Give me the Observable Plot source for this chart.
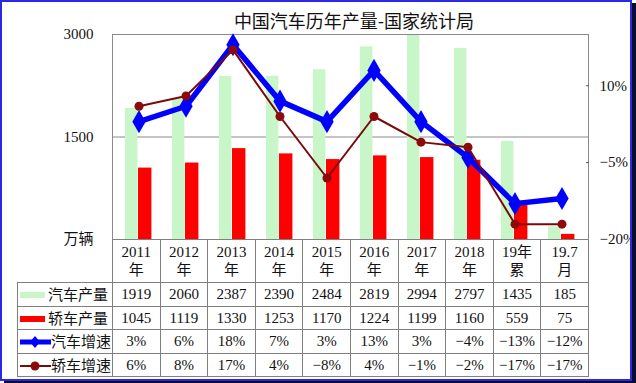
<!DOCTYPE html>
<html><head><meta charset="utf-8">
<script src="https://cdn.jsdelivr.net/npm/d3@7"></script>
<script src="https://cdn.jsdelivr.net/npm/@observablehq/plot@0.6"></script>
<style>
body{margin:0;background:#fff;}
#wrap{position:relative;width:636px;height:383px;overflow:hidden;background:#fff;font-family:"Liberation Serif","Noto Sans CJK SC",serif;color:#111;}
#chart{position:absolute;left:0;top:0;}
#title{position:absolute;left:112px;width:484px;top:10px;text-align:center;font-family:"Noto Sans CJK SC";font-size:18px;line-height:20px;color:#111;}
#tbl{position:absolute;left:17px;top:239px;border-collapse:collapse;table-layout:fixed;width:571px;font-size:15px;font-family:"Liberation Serif","Noto Sans CJK SC",serif;}
#tbl td{border:1px solid #808080;padding:0;text-align:center;white-space:nowrap;height:22.5px;line-height:18px;}
#tbl tr.hdr td{height:42px;}
#tbl td.blank{border-top:none;border-left:none;}
#tbl td.lab{text-align:left;padding-left:2px;font-family:"Noto Sans CJK SC";}
.sw{display:inline-block;width:25px;height:6px;vertical-align:middle;margin-right:3px;position:relative;top:-1px;}
.ls{display:inline-block;vertical-align:middle;margin-right:0px;position:relative;top:-1px;}
#frame{position:absolute;left:0;top:0;width:632px;height:381px;box-sizing:border-box;border:2px solid #2a2ae6;box-shadow:4px 3px 0 #0c0c30;pointer-events:none;}
</style>
</head><body>
<div id="wrap">
  <div id="chart"></div>
  <div id="title">中国汽车历年产量-国家统计局</div>
  <table id="tbl"></table>
  <div id="frame"></div>
</div>
<script>
const categories = ["2011年","2012年","2013年","2014年","2015年","2016年","2017年","2018年","19年累","19.7月"];
const autoOutput = [1919,2060,2387,2390,2484,2819,2994,2797,1435,185];
const sedanOutput = [1045,1119,1330,1253,1170,1224,1199,1160,559,75];
const autoGrowth = [3,6,18,7,3,13,3,-4,-13,-12];
const sedanGrowth = [6,8,17,4,-8,4,-1,-2,-17,-17];
const leftTicks = [0,1500,3000];
const rightTicks = [10,-5,-20];
const yDomain = [0,3000];
const pctDomain = [-20,20];
const seriesNames = ["汽车产量","轿车产量","汽车增速","轿车增速"];
const unitLabel = "万辆";

const toY = p => (p - pctDomain[0]) / (pctDomain[1] - pctDomain[0]) * (yDomain[1] - yDomain[0]) + yDomain[0];
const fromY = y => Math.round((y - yDomain[0]) / (yDomain[1] - yDomain[0]) * (pctDomain[1] - pctDomain[0]) + pctDomain[0]);
const fmtPct = v => (v < 0 ? "−" : "") + Math.abs(v) + "%";

const rows = categories.map((c, i) => ({cat: c, auto: autoOutput[i], sedan: sedanOutput[i], ag: autoGrowth[i], sg: sedanGrowth[i]}));

const chart = Plot.plot({
  width: 636, height: 262,
  marginLeft: 112, marginRight: 48, marginTop: 34, marginBottom: 23,
  style: {background: "transparent", fontFamily: '"Liberation Serif","Noto Sans CJK SC",serif', fontSize: "15px", color: "#111", overflow: "visible"},
  x: {domain: categories, padding: 0, axis: null},
  y: {domain: yDomain, label: null, axis: null},
  marks: [
    Plot.ruleY([1500], {stroke: "#8a8a8a"}),
    Plot.barY(rows, {x: "cat", y: "auto", fill: "#c9f6c9", insetLeft: 10, insetRight: 24.6}),
    Plot.barY(rows, {x: "cat", y: "sedan", fill: "#ff0000", insetLeft: 23, insetRight: 10.6}),
    Plot.frame({stroke: "#8a8a8a"}),
    Plot.line(rows, {x: "cat", y: d => toY(d.ag), stroke: "#0000ff", strokeWidth: 5.5}),
    Plot.dot(rows, {x: "cat", y: d => toY(d.ag), symbol: "diamond", r: 7, fill: "#0000ff"}),
    Plot.line(rows, {x: "cat", y: d => toY(d.sg), stroke: "#7a0a0a", strokeWidth: 2}),
    Plot.dot(rows, {x: "cat", y: d => toY(d.sg), r: 4.5, fill: "#8b0a0a"}),
    Plot.axisY(leftTicks, {anchor: "left", tickSize: 0, tickPadding: 19, label: null,
      tickFormat: d => d === 0 ? unitLabel : String(d)}),
    Plot.axisY(rightTicks.map(toY), {anchor: "right", tickSize: -3, tickPadding: 14, label: null, stroke: "#555",
      tickFormat: d => fmtPct(fromY(d))})
  ]
});
document.getElementById("chart").appendChild(chart);

// data table below the chart
const blueSym = `<svg class="ls" width="31" height="14"><line x1="0" y1="7" x2="31" y2="7" stroke="#0000ff" stroke-width="5"/><path d="M15,1 L20,7 L15,13 L10,7 Z" fill="#0000ff"/></svg>`;
const redSym = `<svg class="ls" width="31" height="14"><line x1="0" y1="7" x2="31" y2="7" stroke="#7a0a0a" stroke-width="2"/><circle cx="15" cy="7" r="4.5" fill="#8b0a0a"/></svg>`;
const tableRows = [
  {sym: `<span class="sw" style="background:#c9f6c9"></span>`, vals: autoOutput.map(String)},
  {sym: `<span class="sw" style="background:#ff0000"></span>`, vals: sedanOutput.map(String)},
  {sym: blueSym, vals: autoGrowth.map(fmtPct)},
  {sym: redSym, vals: sedanGrowth.map(fmtPct)}
];
let html = `<colgroup><col style="width:95px">${categories.map(() => `<col style="width:47.6px">`).join("")}</colgroup>`;
html += `<tr class="hdr"><td class="blank"></td>${categories.map(c => `<td>${c.slice(0, -1)}<br>${c.slice(-1)}</td>`).join("")}</tr>`;
tableRows.forEach((r, i) => {
  html += `<tr><td class="lab">${r.sym}${seriesNames[i]}</td>${r.vals.map(v => `<td>${v}</td>`).join("")}</tr>`;
});
document.getElementById("tbl").innerHTML = html;
</script>
</body></html>
